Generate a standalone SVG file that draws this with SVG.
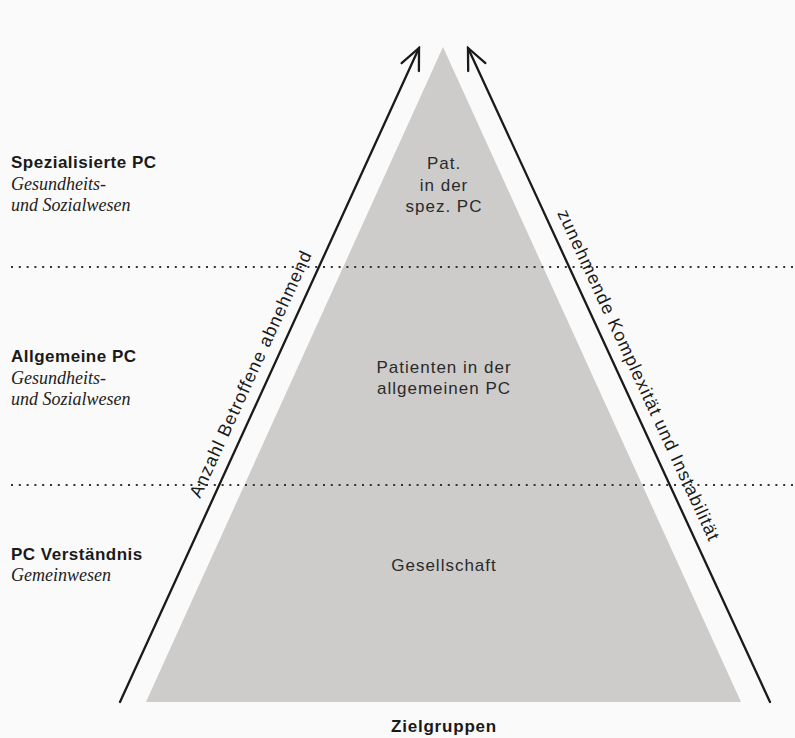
<svg xmlns="http://www.w3.org/2000/svg" width="795" height="738" viewBox="0 0 795 738">
<defs>
<style>
.bg{fill:#fafafa}
.tri{fill:#cdcccb}
.arrow{stroke:#1a1a1a;stroke-width:2.3;fill:none;stroke-linecap:round}
.dots{stroke:#333;stroke-width:2;stroke-dasharray:2 5.8;fill:none}
.h{font-family:"Liberation Sans",Arial,sans-serif;font-weight:bold;font-size:17px;letter-spacing:0.5px;fill:#1a1a1a}
.s{font-family:"Liberation Serif","Times New Roman",serif;font-style:italic;font-size:18px;fill:#222}
.c{font-family:"Liberation Sans",Arial,sans-serif;font-size:17px;letter-spacing:1px;fill:#2a2a2a;text-anchor:middle}
.r{font-family:"Liberation Sans",Arial,sans-serif;font-size:18px;letter-spacing:1px;fill:#1a1a1a}
</style>
<marker id="head" viewBox="-24 -12 26 24" markerWidth="26" markerHeight="24" refX="0" refY="0" orient="auto" markerUnits="userSpaceOnUse">
<path d="M-21,-9.5 L0,0 L-21,9.5" fill="none" stroke="#1a1a1a" stroke-width="2.3" stroke-linecap="round" stroke-linejoin="miter"/>
</marker>
</defs>
<rect class="bg" x="0" y="0" width="795" height="738"/>
<g id="pyramid">
<polygon class="tri" points="443,47 741,702 146,702"/>
</g>
<g id="levels">
<line class="dots" x1="11" y1="267" x2="795" y2="267"/>
<line class="dots" x1="11" y1="485" x2="795" y2="485"/>
</g>
<g id="connectors">
<line class="arrow" x1="120" y1="702" x2="419" y2="48" marker-end="url(#head)"/>
<line class="arrow" x1="770" y1="702" x2="468" y2="48" marker-end="url(#head)"/>
</g>
<g id="label-spez">
<text class="h" x="11" y="168">Spezialisierte PC</text>
<text class="s" x="11" y="189.5">Gesundheits-</text>
<text class="s" x="11" y="211">und Sozialwesen</text>
</g>
<g id="label-allg">
<text class="h" x="11" y="362">Allgemeine PC</text>
<text class="s" x="11" y="383.5">Gesundheits-</text>
<text class="s" x="11" y="405">und Sozialwesen</text>
</g>
<g id="label-verst">
<text class="h" x="11" y="560">PC Verständnis</text>
<text class="s" x="11" y="581">Gemeinwesen</text>
</g>
<g id="node-spez">
<text class="c" x="444" y="169">Pat.</text>
<text class="c" x="444" y="191">in der</text>
<text class="c" x="444" y="212">spez. PC</text>
</g>
<g id="node-allg">
<text class="c" x="444" y="373">Patienten in der</text>
<text class="c" x="444" y="394">allgemeinen PC</text>
</g>
<g id="node-ges">
<text class="c" x="444" y="571">Gesellschaft</text>
</g>
<g id="title">
<text class="h" x="444" y="732" text-anchor="middle" style="letter-spacing:0.8px">Zielgruppen</text>
</g>
<g id="axis-labels">
<text class="r" transform="translate(200,499) rotate(-65.4)">Anzahl Betroffene abnehmend</text>
<text class="r" transform="translate(557,213) rotate(65.2)">zunehmende Komplexität und Instabilität</text>
</g>
</svg>
